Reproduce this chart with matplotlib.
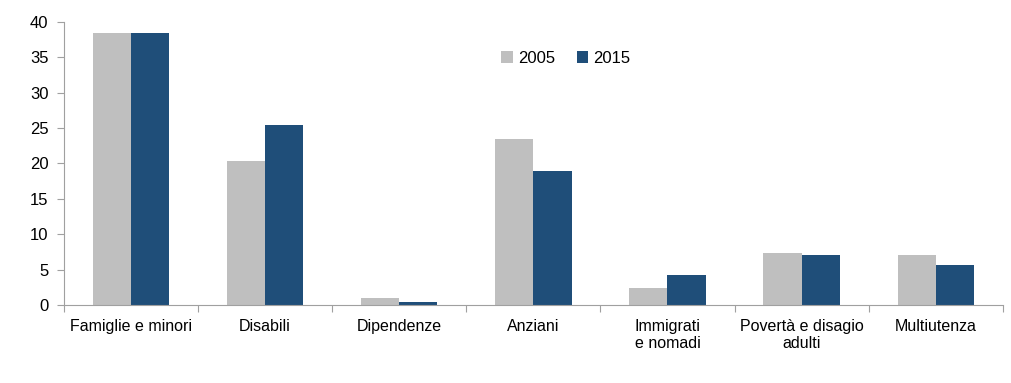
import matplotlib
matplotlib.use("Agg")
import matplotlib.pyplot as plt
import numpy as np
from matplotlib import font_manager

names = {f.name for f in font_manager.fontManager.ttflist}
fam = ['Liberation Sans Narrow', 'Liberation Sans', 'DejaVu Sans'] if 'Liberation Sans Narrow' in names else ['Liberation Sans', 'DejaVu Sans']
plt.rcParams['font.family'] = fam

categories = ["Famiglie e minori", "Disabili", "Dipendenze", "Anziani",
              "Immigrati\ne nomadi", "Povertà e disagio\nadulti", "Multiutenza"]
v2005 = [38.5, 20.3, 1.0, 23.4, 2.4, 7.4, 7.1]
v2015 = [38.5, 25.4, 0.4, 18.9, 4.2, 7.0, 5.6]
series = ["2005", "2015"]
colors = ["#BFBFBF", "#1F4E79"]

fig = plt.figure(figsize=(10.12, 3.83), dpi=100)
ax = fig.add_axes([0.063, 0.204, 0.928, 0.7386])
x = np.arange(len(categories))
w = 0.285
ax.bar(x - w/2, v2005, w, color=colors[0], label=series[0])
ax.bar(x + w/2, v2015, w, color=colors[1], label=series[1])

ax.set_xlim(-0.5, len(categories) - 0.5)
ax.set_ylim(0, 40)
ax.set_yticks(range(0, 41, 5))
ax.set_xticks(np.arange(-0.5, len(categories), 1.0))
ax.set_xticklabels([])
ax.set_xticks(x, minor=True)
ax.set_xticklabels(categories, minor=True, fontsize=11.5)
ax.tick_params(axis='x', which='minor', length=0, pad=10)
ax.tick_params(axis='x', which='major', length=5, color='#A0A0A0', direction='out')
ax.tick_params(axis='y', length=5, color='#A0A0A0', labelsize=12, pad=6)
for s in ['top', 'right']:
    ax.spines[s].set_visible(False)
for s in ['left', 'bottom']:
    ax.spines[s].set_color('#A0A0A0')
leg = ax.legend(loc='upper left', bbox_to_anchor=(0.45, 0.95), ncol=2, frameon=False,
                fontsize=12, handlelength=0.7, handleheight=0.7, columnspacing=1.3, handletextpad=0.3)
fig.savefig("out.png", dpi=100)
